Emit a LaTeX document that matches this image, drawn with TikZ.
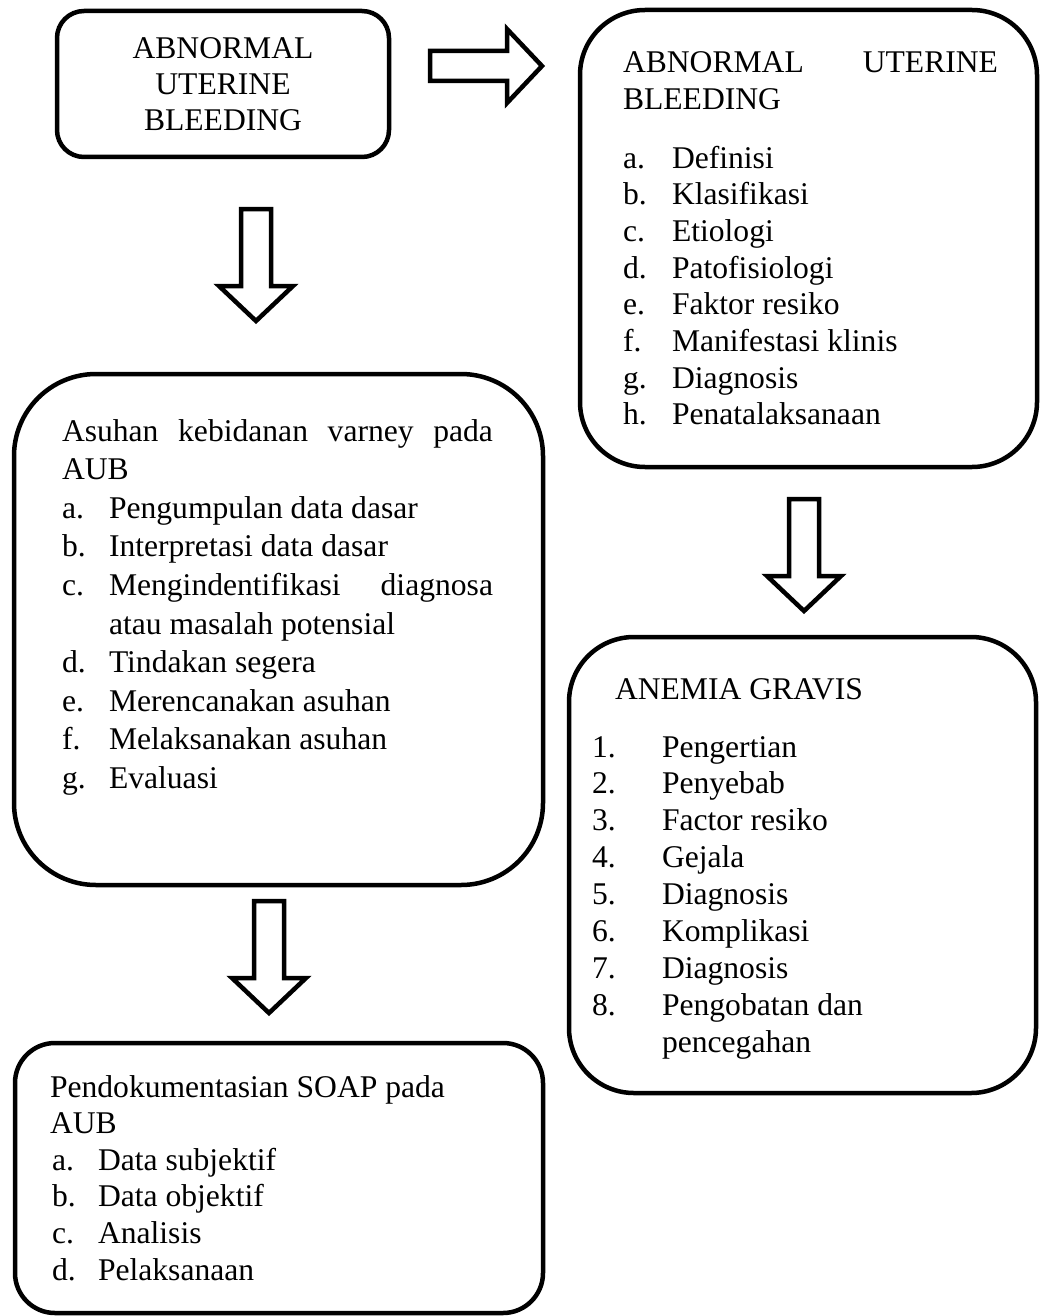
\documentclass[tikz,border=0pt]{standalone}
\usepackage{fontspec}
\setmainfont{Liberation Serif}
\begin{document}
\begin{tikzpicture}[x=1pt,y=-1pt,
  box/.style={draw, line width=4.5pt, inner sep=0pt, outer sep=0pt},
  txt/.style={anchor=base west, inner sep=0pt, outer sep=0pt, font=\fontsize{31.6}{36}\selectfont},
  ctxt/.style={txt, anchor=base},
  etxt/.style={txt, anchor=base east},
  blockarrow/.pic={\draw[line width=4.5pt, miter limit=10] (0,-15) -- (77,-15) -- (77,-37) -- (112,0) -- (77,37) -- (77,15) -- (0,15) -- cycle;}
]
\useasboundingbox (0,0) rectangle (1040,1316);

% boxes
\node[box, rounded corners=27pt, minimum width=332pt, minimum height=146pt] (b1) at (223,84) {};
\node[box, rounded corners=65pt, minimum width=457pt, minimum height=457pt] (b2) at (808.5,238.5) {};
\node[box, rounded corners=82pt, minimum width=529pt, minimum height=511pt] (b3) at (278.5,629.5) {};
\node[box, rounded corners=40pt, minimum width=528pt, minimum height=270pt] (b4) at (279,1178) {};
\node[box, rounded corners=65pt, minimum width=467pt, minimum height=456pt] (b5) at (802.5,865) {};

% block arrows
\pic at (430,66) {blockarrow};
\pic[rotate=-90] at (256,209) {blockarrow};
\pic[rotate=-90] at (269,901) {blockarrow};
\pic[rotate=-90] at (804,499) {blockarrow};

% box 1 text
\node[ctxt] (b1a) at (223,59) {ABNORMAL};
\node[ctxt] (b1b) at (223,95) {UTERINE};
\node[ctxt] (b1c) at (223,131) {BLEEDING};

% box 2 text
\node[txt] (b2a) at (623,73) {ABNORMAL};
\node[etxt] (b2b) at (998,73) {UTERINE};
\node[txt] (b2c) at (623,110) {BLEEDING};
\foreach \lab/\itm [count=\i] in {a./Definisi, b./Klasifikasi, c./Etiologi, d./Patofisiologi, e./Faktor resiko, f./Manifestasi klinis, g./Diagnosis, h./Penatalaksanaan}{
  \node[txt] (b2l\i) at (623,{168+(\i-1)*36.7}) {\lab};
  \node[txt] (b2t\i) at (672,{168+(\i-1)*36.7}) {\itm};
}

% box 3 text
\node[txt] (b3h) at (62,441) {\hbox to 431pt{Asuhan\hfill kebidanan\hfill varney\hfill pada}};
\node[txt] (b3h2) at (62,479.6) {AUB};
\node[txt] (b3la) at (62,518.2) {a.};
\node[txt] (b3ta) at (109,518.2) {Pengumpulan data dasar};
\node[txt] (b3lb) at (62,556.8) {b.};
\node[txt] (b3tb) at (109,556.8) {Interpretasi data dasar};
\node[txt] (b3lc) at (62,595.4) {c.};
\node[txt] (b3tc) at (109,595.4) {\hbox to 384pt{Mengindentifikasi\hfill diagnosa}};
\node[txt] (b3tc2) at (109,634) {atau masalah potensial};
\node[txt] (b3ld) at (62,672.6) {d.};
\node[txt] (b3td) at (109,672.6) {Tindakan segera};
\node[txt] (b3le) at (62,711.2) {e.};
\node[txt] (b3te) at (109,711.2) {Merencanakan asuhan};
\node[txt] (b3lf) at (62,749.8) {f.};
\node[txt] (b3tf) at (109,749.8) {Melaksanakan asuhan};
\node[txt] (b3lg) at (62,788.4) {g.};
\node[txt] (b3tg) at (109,788.4) {Evaluasi};

% box 4 text
\node[txt] (b4h) at (50,1097) {Pendokumentasian SOAP pada};
\node[txt] (b4h2) at (50,1133.6) {AUB};
\foreach \lab/\itm [count=\i] in {a./Data subjektif, b./Data objektif, c./Analisis, d./Pelaksanaan}{
  \node[txt] (b4l\i) at (52,{1170.2+(\i-1)*36.6}) {\lab};
  \node[txt] (b4t\i) at (98,{1170.2+(\i-1)*36.6}) {\itm};
}

% box 5 text
\node[txt] (b5h) at (615,699) {ANEMIA GRAVIS};
\foreach \lab/\itm [count=\i] in {1./Pengertian, 2./Penyebab, 3./Factor resiko, 4./Gejala, 5./Diagnosis, 6./Komplikasi, 7./Diagnosis, 8./Pengobatan dan}{
  \node[txt] (b5l\i) at (592,{757+(\i-1)*36.9}) {\lab};
  \node[txt] (b5t\i) at (662,{757+(\i-1)*36.9}) {\itm};
}
\node[txt] (b5t9) at (662,1052) {pencegahan};
\end{tikzpicture}
\end{document}
